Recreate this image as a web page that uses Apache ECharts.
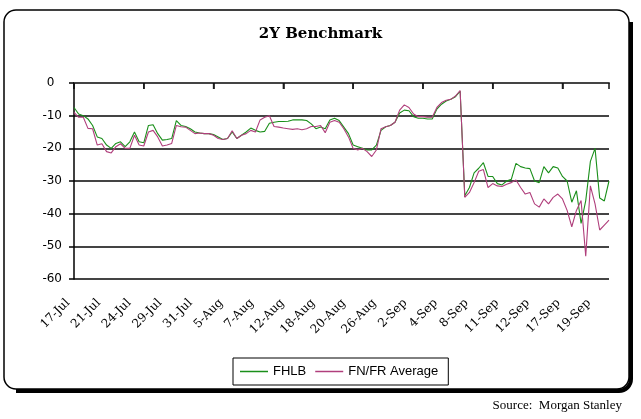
<!DOCTYPE html>
<html><head><meta charset="utf-8">
<script src="https://cdn.jsdelivr.net/npm/echarts@6/dist/echarts.min.js"></script>
<style>html,body{margin:0;padding:0;background:#fff}#c{width:641px;height:419px}</style>
</head><body><div id="c"></div>
<script>
const titleText = '2Y Benchmark';
const sourceText = 'Source:  Morgan Stanley';
const seriesNames = ['FHLB', 'FN/FR Average'];
const tickLabels = ['17-Jul','21-Jul','24-Jul','29-Jul','31-Jul','5-Aug','7-Aug','12-Aug','18-Aug','20-Aug','26-Aug','2-Sep','4-Sep','8-Sep','11-Sep','12-Sep','17-Sep','19-Sep'];
const fhlb = [
  -7.5,-9.5,-10,-11,-13,-16.5,-17,-19,-20,-18.5,
  -18,-19.5,-18,-15,-18,-18.3,-13,-12.8,-15.5,-17.5,
  -17.3,-17,-11.5,-13,-13.3,-14,-15,-15.3,-15.5,-15.5,
  -15.8,-16.5,-17.3,-17,-15,-17,-16,-15,-13.8,-14.5,
  -15,-14.8,-12.3,-12,-11.8,-11.8,-11.7,-11.3,-11.3,-11.3,
  -11.5,-12.5,-14,-13.5,-14,-11.3,-10.8,-11.5,-13.5,-15.5,
  -19,-19.5,-20,-20.5,-20.5,-19,-14.5,-13.4,-13,-12,
  -9.2,-8.3,-8.5,-10.3,-10.8,-10.8,-11,-11,-8,-6.5,
  -5.5,-5,-4.2,-2.5,-34.5,-32,-27.5,-26.1,-24.4,-28.6,
  -28.6,-30.8,-31.2,-30,-29.5,-24.6,-25.6,-26,-26.2,-30,
  -30.5,-25.6,-27.5,-25.6,-26,-28.6,-30,-36.5,-33,-43,
  -36,-24,-20,-35.2,-36.1,-30
];
const fnfr = [
  -9,-10.5,-10.5,-13.9,-14,-19,-18.6,-21,-21.4,-19.5,
  -18.6,-20,-20,-16,-19,-19.3,-15,-14.5,-16.5,-19.3,
  -19,-18.5,-13,-13.4,-13.5,-14.5,-15.5,-15.3,-15.5,-15.5,
  -16,-17,-17.3,-17,-14.6,-17,-16,-15.5,-14.5,-15,
  -11.3,-10.5,-10,-13.3,-13.5,-13.8,-14,-14.2,-14,-14.3,
  -14,-13.3,-13.3,-13,-15.2,-12,-11.5,-12,-14,-16.5,
  -20,-20.5,-20,-21,-22.5,-20.5,-14,-13.4,-13,-12,
  -8.3,-6.7,-7.5,-9.5,-10.3,-10.3,-10.5,-10.5,-7.5,-6,
  -5.3,-5,-4,-2.3,-35,-33.5,-30.5,-27,-26.5,-32,
  -30.8,-31.5,-31.7,-31,-30.5,-29.7,-32,-34,-33.5,-37,
  -38,-35.5,-37,-35,-34,-35.5,-39,-44,-39,-36,
  -53,-31.5,-37,-45,-43.5,-42
];
const pointsPerTick = 15;
const tickMarks = Array.from({length: Math.floor((fhlb.length - 1) / pointsPerTick) + 1}, (_, k) => [k * pointsPerTick, 0]);

const shadowStyle = {fill: 'none', stroke: '#000', lineWidth: 4};
const chart = echarts.init(document.getElementById('c'), null, {renderer: 'canvas'});
chart.setOption({
  animation: false,
  backgroundColor: '#fff',
  title: {
    text: titleText, left: 'center', top: 22,
    textStyle: {fontFamily: 'DejaVu Serif', fontWeight: 'bold', fontSize: 15, color: '#000'}
  },
  graphic: [
    {type: 'polyline', shape: {points: [[631, 22], [631, 379]]}, style: shadowStyle},
    {type: 'arc', shape: {cx: 619, cy: 379, r: 12, startAngle: 0, endAngle: Math.PI / 2, clockwise: true}, style: shadowStyle},
    {type: 'polyline', shape: {points: [[619, 391], [16, 391]]}, style: shadowStyle},
    {type: 'rect', shape: {x: 4, y: 10, width: 625, height: 379, r: 12},
      style: {fill: 'none', stroke: '#000', lineWidth: 1.5}},
    {type: 'text', x: 622, y: 406, style: {text: sourceText, align: 'right', verticalAlign: 'middle', font: '13px "Liberation Serif"', fill: '#000'}}
  ],
  legend: {
    data: seriesNames, left: 233, top: 358, orient: 'horizontal',
    borderColor: '#000', borderWidth: 1, padding: [7, 10, 7, 7],
    itemGap: 9, itemWidth: 28, itemHeight: 1.5, icon: 'rect',
    textStyle: {fontFamily: 'Liberation Sans', fontSize: 13, color: '#000'}
  },
  grid: [
    {left: 74, right: 32, top: 83, bottom: 140},
    {left: 68, right: 52, top: 280, height: 10}
  ],
  xAxis: [
    {
      gridIndex: 0, type: 'value', min: 0, max: fhlb.length - 1, interval: pointsPerTick, position: 'top',
      axisLine: {show: true, onZero: false, lineStyle: {color: '#444', width: 2}},
      axisTick: {show: true, inside: true, length: 6, lineStyle: {color: '#111', width: 1.5}},
      axisLabel: {show: false}, splitLine: {show: false}
    },
    {
      gridIndex: 1, type: 'category', data: tickLabels, boundaryGap: false,
      axisLine: {show: false}, axisTick: {show: false},
      axisLabel: {show: true, interval: 0, rotate: 45, margin: 11, fontFamily: 'DejaVu Serif', fontSize: 12, color: '#000'}
    }
  ],
  yAxis: [
    {
      gridIndex: 0, type: 'value', min: -60, max: 0, interval: 10,
      axisLine: {show: true, lineStyle: {color: '#000', width: 1.5}},
      axisTick: {show: true, length: 5, lineStyle: {color: '#000', width: 1.5}},
      axisLabel: {margin: 12, fontFamily: 'DejaVu Sans', fontSize: 12, color: '#000',
        formatter: v => v === 0 ? '0\u2007' : String(v)},
      splitLine: {show: true, lineStyle: {color: '#444', width: 2}}
    },
    {gridIndex: 1, type: 'value', show: false}
  ],
  series: [
    {name: seriesNames[0], type: 'line', xAxisIndex: 0, yAxisIndex: 0, data: fhlb.map((v, i) => [i, v]), symbol: 'none',
      lineStyle: {color: '#1a8f1a', width: 1.1}, itemStyle: {color: '#1a8f1a'}},
    {name: seriesNames[1], type: 'line', xAxisIndex: 0, yAxisIndex: 0, data: fnfr.map((v, i) => [i, v]), symbol: 'none',
      lineStyle: {color: '#b03f7c', width: 1.1}, itemStyle: {color: '#b03f7c'}},
    {name: 'ticks', type: 'scatter', xAxisIndex: 0, yAxisIndex: 0, data: tickMarks, silent: true, clip: false,
      symbol: 'rect', symbolSize: [1.5, 6], symbolOffset: [0, 3], itemStyle: {color: '#111'}, z: 3}
  ]
});
</script>
</body></html>
